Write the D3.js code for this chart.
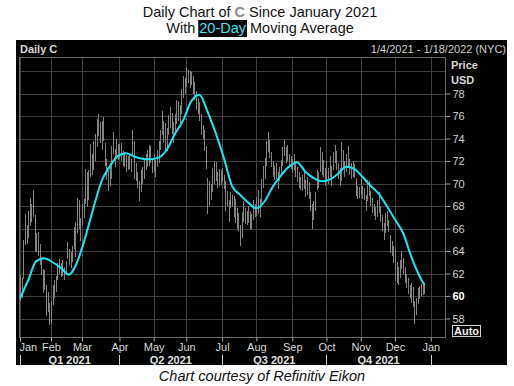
<!DOCTYPE html>
<html>
<head>
<meta charset="utf-8">
<script src="https://cdn.jsdelivr.net/npm/d3@7"></script>
<style>
  html, body { margin: 0; padding: 0; background: #fff; }
  svg { display: block; font-family: "Liberation Sans", Arial, sans-serif; }
</style>
</head>
<body>
<svg id="chart" width="514" height="386"></svg>
<script>
// Citigroup (C) daily bars, Jan 4 2021 - Dec 28 2021 (one value per trading day)
const dailyLow = [
  // Jan
  59.6, 59.8, 61.5, 64.5, 64.6, 65.2, 66.2, 66.6, 67.0, 63.9, 63.9, 63.6, 62.8, 61.9, 60.3, 60.5, 58.2, 58.6, 57.4,
  // Feb
  57.5, 59.2, 59.8, 60.4, 61.4, 62.0, 61.7, 61.8, 61.4, 61.9, 63.3, 62.8, 62.5, 63.0, 64.2, 63.5, 65.6, 66.0, 64.9,
  // Mar
  66.3, 66.9, 68.2, 67.9, 68.5, 70.6, 70.8, 71.2, 72.0, 73.2, 74.2, 73.6, 73.0, 73.8, 71.6, 70.3, 69.3, 69.8, 70.4, 72.6, 71.5, 72.2, 72.1,
  // Apr
  72.2, 72.0, 71.6, 71.5, 71.0, 71.2, 71.3, 71.0, 72.4, 70.4, 70.2, 69.6, 68.4, 69.2, 70.0, 70.4, 71.2, 71.5, 71.6, 71.8, 70.9,
  // May
  71.0, 70.6, 71.5, 71.8, 73.0, 74.3, 73.6, 73.0, 72.9, 74.3, 74.9, 74.4, 73.6, 74.5, 75.3, 75.6, 75.4, 76.2, 77.6, 78.0,
  // Jun
  78.6, 78.9, 78.5, 78.8, 78.0, 77.4, 76.5, 76.2, 75.6, 74.3, 74.0, 72.9, 71.3, 67.3, 68.0, 68.5, 69.2, 70.0, 70.2, 69.6, 69.8, 69.9,
  // Jul
  70.2, 69.5, 67.6, 67.9, 66.6, 67.8, 67.9, 67.0, 66.5, 66.0, 65.8, 64.4, 65.2, 66.6, 66.4, 66.3, 66.5, 65.9, 66.0, 66.8, 67.0,
  // Aug
  67.1, 67.3, 67.0, 68.2, 69.6, 70.4, 71.6, 72.8, 72.3, 71.5, 70.6, 70.3, 70.4, 69.5, 70.2, 70.8, 71.6, 72.4, 71.8, 72.0, 71.4, 71.3,
  // Sep
  70.9, 71.2, 70.6, 70.1, 69.6, 69.4, 69.3, 69.5, 68.8, 69.0, 68.6, 67.6, 66.0, 66.8, 67.6, 69.4, 69.6, 71.0, 70.8, 70.6, 69.8,
  // Oct
  70.2, 70.0, 70.6, 69.8, 71.2, 71.8, 71.2, 70.4, 69.8, 70.2, 71.4, 70.6, 71.0, 71.6, 70.8, 70.4, 70.6, 70.5, 68.9, 68.6, 68.7,
  // Nov
  69.0, 68.6, 68.5, 67.6, 68.4, 68.9, 68.0, 67.4, 67.1, 66.8, 67.0, 67.4, 66.6, 65.8, 65.0, 65.6, 66.2, 65.7, 63.8, 63.6, 62.9,
  // Dec
  61.3, 61.2, 61.0, 61.6, 62.4, 62.0, 61.2, 60.7, 60.2, 59.8, 59.4, 59.0, 57.5, 58.3, 59.3, 59.7, 60.0, 60.1, 60.2
]

const dailyHigh = [
  // Jan
  61.9, 61.6, 65.0, 67.3, 66.3, 67.6, 68.7, 68.2, 69.4, 67.2, 65.6, 65.7, 64.6, 63.5, 62.4, 62.3, 61.0, 60.4, 59.4,
  // Feb
  59.6, 61.0, 61.4, 61.8, 62.9, 63.3, 62.9, 63.2, 62.6, 63.1, 64.8, 64.2, 63.9, 64.4, 66.1, 66.6, 68.7, 68.5, 66.9,
  // Mar
  68.2, 68.6, 71.3, 71.0, 71.2, 73.5, 72.6, 73.8, 74.4, 75.7, 76.2, 75.5, 75.6, 75.9, 73.6, 72.2, 71.1, 71.8, 73.3, 74.6, 73.1, 74.0, 73.5,
  // Apr
  73.5, 73.6, 72.9, 72.8, 72.5, 72.4, 72.6, 72.2, 74.8, 73.8, 71.8, 71.0, 70.2, 71.2, 71.5, 72.2, 72.6, 73.0, 73.4, 73.3, 72.2,
  // May
  72.6, 72.1, 73.0, 73.8, 74.8, 76.4, 75.6, 75.4, 74.9, 76.1, 76.8, 76.3, 75.5, 76.2, 77.4, 77.3, 77.0, 78.4, 79.6, 79.4,
  // Jun
  80.3, 80.1, 80.0, 79.9, 79.6, 79.0, 78.2, 77.6, 77.2, 76.2, 75.2, 74.8, 73.3, 70.5, 70.2, 70.0, 71.4, 72.0, 71.9, 71.0, 71.3, 71.2,
  // Jul
  71.4, 70.8, 70.2, 69.3, 68.5, 69.2, 69.0, 68.9, 68.6, 67.8, 67.4, 66.3, 67.5, 68.4, 67.8, 67.6, 68.0, 67.6, 67.3, 68.5, 68.2,
  // Aug
  68.8, 69.4, 68.6, 70.4, 71.6, 72.3, 73.8, 74.6, 73.9, 72.8, 72.0, 71.6, 71.8, 71.0, 71.5, 72.1, 73.2, 73.9, 73.2, 73.4, 72.6, 72.4,
  // Sep
  72.2, 72.6, 71.8, 71.5, 71.0, 70.6, 70.8, 71.0, 70.3, 70.6, 70.1, 69.2, 68.2, 68.4, 69.2, 71.2, 71.0, 73.2, 72.8, 72.1, 71.4,
  // Oct
  72.0, 71.4, 72.4, 71.6, 72.8, 73.4, 72.9, 71.8, 71.4, 73.7, 73.0, 72.0, 72.6, 73.3, 72.2, 71.8, 72.0, 71.7, 70.5, 69.8, 69.7,
  // Nov
  70.4, 69.8, 69.6, 69.0, 70.3, 70.2, 69.3, 68.7, 68.2, 67.9, 68.5, 69.2, 68.0, 67.2, 66.5, 67.4, 67.6, 66.8, 65.4, 64.9, 64.4,
  // Dec
  64.2, 63.0, 62.6, 63.2, 64.0, 63.4, 62.6, 62.0, 61.6, 61.0, 61.2, 60.8, 59.6, 59.8, 60.7, 60.9, 61.1, 61.0, 61.2
]

// 20-day moving average, every 5th trading day
const maDays = [0, 5, 10, 15, 20, 25, 30, 35, 40, 45, 50, 55, 60, 65, 70, 75, 80, 85, 90, 95,
  100, 105, 110, 115, 120, 125, 130, 135, 140, 145, 150, 155, 160, 165, 170, 175, 180, 185, 190, 195,
  200, 205, 210, 215, 220, 225, 230, 235, 240, 245, 248]
const maValues = [59.8, 61.4, 63.1, 63.35, 63.0, 62.5, 61.9, 63.0, 65.2, 67.8, 70.2, 71.5, 72.45, 72.7, 72.4, 72.2, 72.15, 72.3, 73.0, 74.4,
  75.6, 77.3, 77.9, 76.4, 74.5, 72.3, 69.8, 69.0, 68.3, 67.8, 68.4, 69.7, 70.7, 71.5, 71.9, 71.05, 70.5, 70.2, 70.35, 70.85,
  71.5, 71.3, 70.6, 69.8, 69.1, 68.0, 66.8, 65.6, 63.5, 61.8, 61.0]

// axis labels
const monthLabels = ['Jan', 'Feb', 'Mar', 'Apr', 'May', 'Jun', 'Jul', 'Aug', 'Sep', 'Oct', 'Nov', 'Dec', 'Jan']
const monthStart = [0, 19, 38, 61, 82, 102, 124, 145, 167, 188, 209, 230, 252] // trading-day index
const quarterLabels = ['Q1 2021', 'Q2 2021', 'Q3 2021', 'Q4 2021']
const quarterStart = [0, 61, 124, 188, 252]
const priceGrid = [58, 60, 62, 64, 66, 68, 70, 72, 74, 76, 78, 80]
const priceLabels = [58, 60, 62, 64, 66, 68, 70, 72, 74, 76, 78]

const svg = d3.select('#chart')
const panel = { left: 16, right: 507, top: 40, bottom: 365 }
const plot = { left: 19.5, right: 445.5, top: 57.5, bottom: 337.5 }

const x = d3.scaleLinear().domain([0, 252]).range([20, 430.8])
const y = d3.scaleLinear().domain([58, 78]).range([318.5, 93.5])
const snap = (v) => Math.round(v) + 0.5

// タイトル
const title1 = svg.append('text')
  .attr('x', 260).attr('y', 16.5)
  .attr('text-anchor', 'middle')
  .attr('font-size', '14.5px')
  .attr('fill', '#111')
title1.append('tspan').text('Daily Chart of ')
title1.append('tspan').attr('font-weight', 'bold').attr('fill', '#8a8a8a').text('C')
title1.append('tspan').text(' Since January 2021')

const title2 = svg.append('text')
  .attr('x', 260).attr('y', 32.5)
  .attr('text-anchor', 'middle')
  .attr('font-size', '14.5px')
  .attr('fill', '#111')
title2.append('tspan').text('With ')
title2.append('tspan').attr('fill', '#3fe3f0').text('20-Day')
title2.append('tspan').text(' Moving Average')

// highlight behind "20-Day"
const t2 = title2.node()
const b2 = t2.getBBox()
const hx = b2.x + t2.getSubStringLength(0, 5)
const hw = t2.getSubStringLength(5, 6)
svg.insert('rect', 'text:nth-of-type(2)')
  .attr('x', hx - 1).attr('y', 20)
  .attr('width', hw + 2).attr('height', 17)
  .attr('fill', '#000')

// black panel
svg.append('rect')
  .attr('x', panel.left).attr('y', panel.top)
  .attr('width', panel.right - panel.left)
  .attr('height', panel.bottom - panel.top)
  .attr('fill', '#000')

svg.append('text')
  .attr('x', 20).attr('y', 52.5)
  .attr('font-size', '11px').attr('font-weight', 'bold')
  .attr('fill', '#d8d8d8')
  .text('Daily C')

svg.append('text')
  .attr('x', 506).attr('y', 52.5)
  .attr('text-anchor', 'end')
  .attr('font-size', '11px')
  .attr('fill', '#cfcfcf')
  .text('1/4/2021 - 1/18/2022 (NYC)')

// grid
const grid = svg.append('g').attr('stroke', '#404040').attr('stroke-width', 1)
grid.selectAll('line.h')
  .data(priceGrid)
  .enter().append('line')
  .attr('x1', plot.left).attr('x2', plot.right)
  .attr('y1', (d) => snap(y(d))).attr('y2', (d) => snap(y(d)))
grid.selectAll('line.v')
  .data(monthStart)
  .enter().append('line')
  .attr('y1', plot.top).attr('y2', plot.bottom)
  .attr('x1', (d) => snap(x(d))).attr('x2', (d) => snap(x(d)))

// frame
svg.append('rect')
  .attr('x', plot.left).attr('y', plot.top)
  .attr('width', plot.right - plot.left)
  .attr('height', plot.bottom - plot.top)
  .attr('fill', 'none')
  .attr('stroke', '#6a6a6a')

// daily high-low bars (pixel snapped)
const bars = dailyLow.map((lo, i) => ({ i, lo, hi: dailyHigh[i] }))
svg.append('g')
  .attr('shape-rendering', 'crispEdges')
  .selectAll('line')
  .data(bars)
  .enter().append('line')
  .attr('x1', (d) => snap(x(d.i))).attr('x2', (d) => snap(x(d.i)))
  .attr('y1', (d) => Math.round(y(d.hi))).attr('y2', (d) => Math.round(y(d.lo)))
  .attr('stroke', '#828282')
  .attr('stroke-width', 1)

// moving average
const ma = maDays.map((d, k) => ({ i: d, v: maValues[k] }))
svg.append('path')
  .datum(ma)
  .attr('d', d3.line().x((d) => x(d.i)).y((d) => y(d.v)).curve(d3.curveMonotoneX))
  .attr('fill', 'none')
  .attr('stroke', '#19e6f0')
  .attr('stroke-width', 2)

// right price axis
const yAxis = svg.append('g')
  .attr('transform', `translate(${plot.right},0)`)
  .call(d3.axisRight(y).tickValues(priceLabels).tickSize(5).tickPadding(2).tickFormat(d3.format('d')))
yAxis.select('.domain').remove()
yAxis.selectAll('line').attr('stroke', '#9a9a9a')
yAxis.selectAll('text')
  .attr('font-family', '"Liberation Sans", Arial, sans-serif')
  .attr('font-size', '11px')
  .attr('fill', '#d0d0d0')
  .attr('font-weight', (d) => d === 60 ? 'bold' : null)
  .filter((d) => d === 60).attr('fill', '#fff')

svg.append('text')
  .attr('x', 451).attr('y', 68.5)
  .attr('font-size', '11px').attr('font-weight', 'bold')
  .attr('fill', '#d8d8d8').text('Price')
svg.append('text')
  .attr('x', 451).attr('y', 83.5)
  .attr('font-size', '11px').attr('font-weight', 'bold')
  .attr('fill', '#d8d8d8').text('USD')

// Auto button
svg.append('rect')
  .attr('x', 452.5).attr('y', 325.5)
  .attr('width', 28).attr('height', 11)
  .attr('fill', '#000').attr('stroke', '#cfcfcf')
svg.append('text')
  .attr('x', 466.5).attr('y', 335)
  .attr('text-anchor', 'middle')
  .attr('font-size', '11px').attr('font-weight', 'bold')
  .attr('fill', '#eee').text('Auto')

// bottom month axis
const xAxis = svg.append('g')
  .attr('transform', `translate(0,${plot.bottom})`)
  .call(d3.axisBottom(x).tickValues(monthStart).tickSize(4).tickPadding(2)
    .tickFormat((d, k) => monthLabels[k]))
xAxis.select('.domain').remove()
xAxis.selectAll('line').attr('stroke', '#b0b0b0')
xAxis.selectAll('text')
  .attr('font-family', '"Liberation Sans", Arial, sans-serif')
  .attr('font-size', '11px')
  .attr('fill', '#d8d8d8')
  .filter((d, k) => k === 0).attr('text-anchor', 'start').attr('dx', -1)

// quarter row
const qg = svg.append('g')
qg.selectAll('line')
  .data(quarterStart)
  .enter().append('line')
  .attr('x1', (d) => snap(x(d))).attr('x2', (d) => snap(x(d)))
  .attr('y1', 355).attr('y2', 365)
  .attr('stroke', '#c8c8c8')
qg.selectAll('text')
  .data(quarterLabels)
  .enter().append('text')
  .attr('x', (d, k) => (x(quarterStart[k]) + x(quarterStart[k + 1])) / 2)
  .attr('y', 364)
  .attr('text-anchor', 'middle')
  .attr('font-size', '11px').attr('font-weight', 'bold')
  .attr('fill', '#e0e0e0')
  .text((d) => d)

// caption
svg.append('text')
  .attr('x', 262).attr('y', 380.5)
  .attr('text-anchor', 'middle')
  .attr('font-size', '14.5px').attr('font-style', 'italic')
  .attr('fill', '#111')
  .text('Chart courtesy of Refinitiv Eikon')
</script>
</body>
</html>
